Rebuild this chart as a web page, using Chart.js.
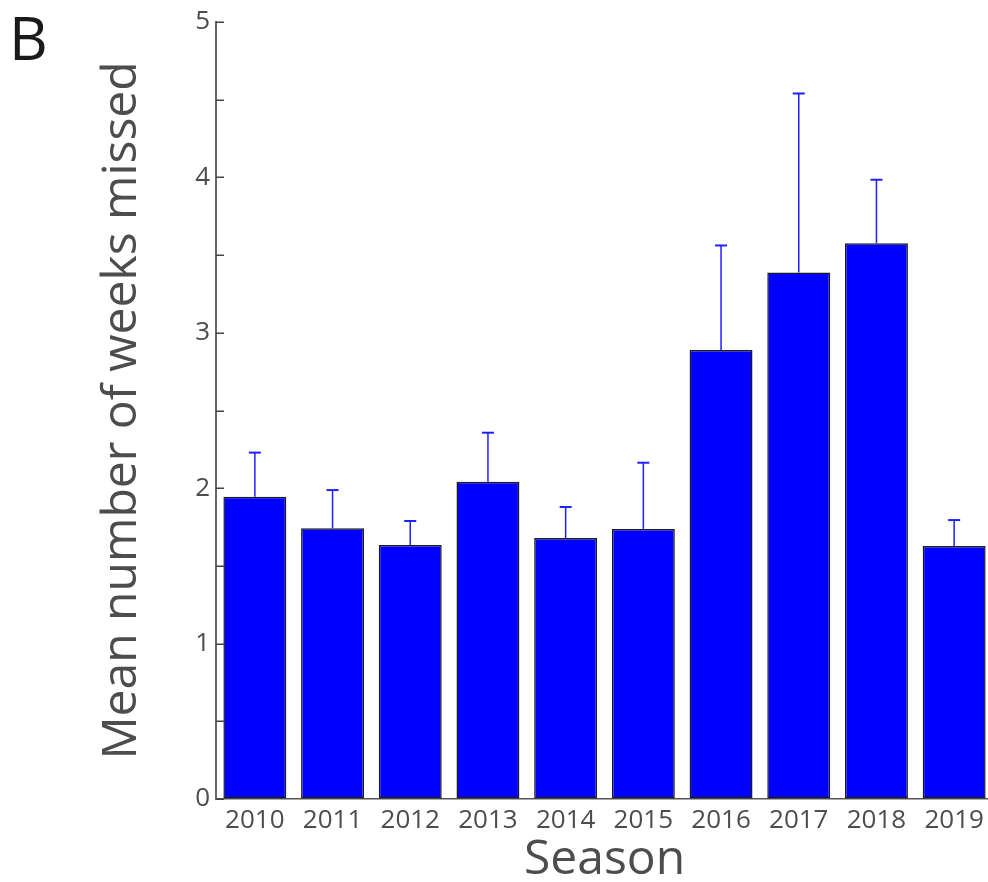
<!DOCTYPE html>
<html>
<head>
<meta charset="utf-8">
<script src="https://cdn.jsdelivr.net/npm/chart.js@4/dist/chart.umd.min.js"></script>
<style>
  html, body { margin: 0; padding: 0; background: #fff; overflow: hidden; }
  #wrap { position: absolute; left: 0; top: 0; width: 996px; height: 882px; }
</style>
</head>
<body>
<div id="wrap"><canvas id="c" width="996" height="882"></canvas></div>
<script>
// Seasons on the x axis
const seasons = ['2010', '2011', '2012', '2013', '2014', '2015', '2016', '2017', '2018', '2019'];
// Mean number of weeks missed per season
const meanWeeks = [1.945, 1.742, 1.634, 2.042, 1.679, 1.737, 2.890, 3.388, 3.577, 1.628];
// Upper error bar length (added on top of each mean)
const errorUp = [0.284, 0.246, 0.155, 0.315, 0.200, 0.427, 0.672, 1.152, 0.408, 0.167];

const FONT = "'Open Sans', 'Noto Sans', 'DejaVu Sans', sans-serif";
const GREY = '#4d4d4d';

// One-sided error bars drawn through the y scale
const errorBars = {
  id: 'errorBars',
  afterDatasetsDraw(chart) {
    const ctx = chart.ctx;
    const y = chart.scales.y;
    const meta = chart.getDatasetMeta(0);
    ctx.save();
    ctx.strokeStyle = '#2020ff';
    meta.data.forEach((bar, i) => {
      const base = y.getPixelForValue(meanWeeks[i]);
      const top = y.getPixelForValue(meanWeeks[i] + errorUp[i]);
      ctx.lineWidth = 1.5;
      ctx.beginPath();
      ctx.moveTo(bar.x, base);
      ctx.lineTo(bar.x, top);
      ctx.stroke();
      ctx.lineWidth = 2;
      ctx.beginPath();
      ctx.moveTo(bar.x - 6, top);
      ctx.lineTo(bar.x + 6, top);
      ctx.stroke();
    });
    ctx.restore();
  }
};

// Inward-pointing tick marks on the y axis, plus the panel letter
const axisDecor = {
  id: 'axisDecor',
  afterDraw(chart) {
    const ctx = chart.ctx;
    const y = chart.scales.y;
    const left = chart.chartArea.left;
    ctx.save();
    ctx.strokeStyle = '#444';
    ctx.lineWidth = 1.5;
    y.ticks.forEach(t => {
      const py = Math.round(y.getPixelForValue(t.value)) + 0.25;
      ctx.beginPath();
      ctx.moveTo(left, py);
      ctx.lineTo(left + 8, py);
      ctx.stroke();
    });
    ctx.fillStyle = '#1a1a1a';
    ctx.font = "60px " + FONT;
    ctx.textBaseline = 'alphabetic';
    ctx.textAlign = 'left';
    ctx.fillText('B', 9, 60);
    ctx.restore();
  }
};

new Chart(document.getElementById('c'), {
  type: 'bar',
  data: {
    labels: seasons,
    datasets: [{
      data: meanWeeks,
      backgroundColor: '#0000ff',
      borderColor: '#1a1a1a',
      borderWidth: 1.5,
      borderSkipped: false,
      categoryPercentage: 1.0,
      barPercentage: 0.81
    }]
  },
  options: {
    responsive: false,
    animation: false,
    events: [],
    layout: { padding: { top: 22, right: 3, left: 0, bottom: 0 } },
    plugins: { legend: { display: false }, tooltip: { enabled: false } },
    scales: {
      x: {
        grid: { display: false, drawTicks: false },
        border: { display: true, color: '#555', width: 1.5 },
        ticks: { color: GREY, font: { family: FONT, size: 26 }, padding: 6, maxRotation: 0 },
        title: { display: true, text: 'Season', color: GREY, font: { family: FONT, size: 48, lineHeight: 0.9 }, padding: { top: 0, bottom: 0 } },
        afterFit(s) { s.height = 83; }
      },
      y: {
        min: 0,
        max: 5,
        grid: { drawOnChartArea: false, drawTicks: false },
        border: { display: true, color: '#666', width: 2 },
        ticks: {
          stepSize: 0.5,
          color: GREY,
          font: { family: FONT, size: 26 },
          padding: 6,
          callback: v => (Number.isInteger(v) ? v : '')
        },
        title: { display: true, text: 'Mean number of weeks missed', color: GREY, font: { family: FONT, size: 48 }, padding: { top: 94, bottom: 0 } },
        afterFit(s) { s.width = 216; }
      }
    }
  },
  plugins: [errorBars, axisDecor]
});
</script>
</body>
</html>
